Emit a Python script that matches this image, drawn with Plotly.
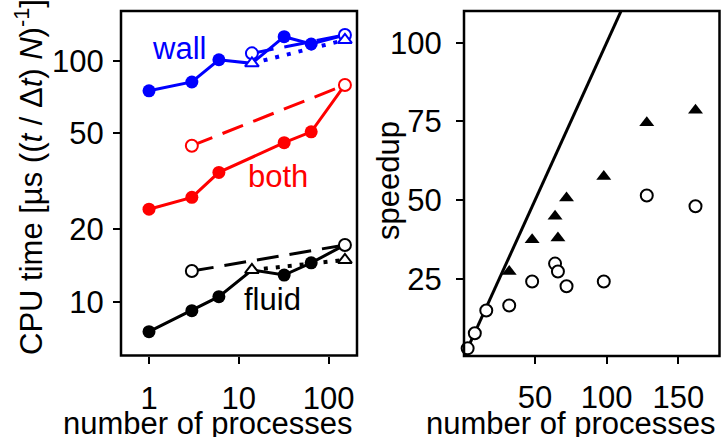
import plotly.graph_objects as go

W, H = 723, 437

# ---------------- data: left panel (CPU time, log-log) ----------------
procs_total = [1, 3, 6, 14, 32, 64, 152]
procs_total_both = [1, 3, 6, 32, 64, 152]
wall_total = [75.0, 81.6, 100.9, 97.5, 125.8, 117.3, 127.8]
both_total = [24.2, 27.1, 34.4, 45.7, 50.7, 79.3]
fluid_total = [7.51, 9.18, 10.49, 13.54, 12.9, 14.5, 17.2]

wall_dash_x = [14, 152]
wall_dash_y = [107.3, 127.8]
wall_dot_x = [14, 152]
wall_dot_y = [97.5, 121.9]

both_dash_x = [3, 152]
both_dash_y = [44.4, 79.3]

fluid_dash_x = [3, 152]
fluid_dash_y = [13.4, 17.2]
fluid_dot_x = [14, 152]
fluid_dot_y = [13.54, 14.9]

# ---------------- data: right panel (speedup) ----------------
ideal_x = [0, 180]
ideal_y = [0, 180]
spd_circ_x = [3, 8, 16, 32, 48, 64, 66, 72, 98, 128, 162]
spd_circ_y = [3.0, 7.8, 15.0, 16.6, 24.2, 29.9, 27.4, 22.7, 24.2, 51.5, 48.1]
spd_tri_x = [32, 48, 64, 66, 72, 98, 128, 162]
spd_tri_y = [27.4, 37.5, 44.9, 38.0, 50.7, 57.5, 74.6, 78.6]

left_xticks = [1, 10, 100]
left_yticks = [10, 20, 50, 100]
right_xticks = [50, 100, 150]
right_yticks = [25, 50, 75, 100]

BLUE = "#0000FF"
RED = "#FF0000"
BLACK = "#000000"
FONT = "Liberation Sans, Arial, sans-serif"
FS = 31

def px(xp):
    return xp / W

def py(yp):
    return 1 - yp / H

# panel pixel boxes
L = (121, 357, 11, 355.5)
R = (464, 719.5, 11, 356)

fig = go.Figure()

def line_tr(x, y, color, dash, xa, ya, width=3):
    fig.add_trace(go.Scatter(x=x, y=y, mode="lines", xaxis=xa, yaxis=ya,
                             line=dict(color=color, width=width, dash=dash),
                             showlegend=False, hoverinfo="skip"))

def mark_tr(x, y, color, symbol, filled, xa, ya, size=12):
    fig.add_trace(go.Scatter(x=x, y=y, mode="markers", xaxis=xa, yaxis=ya,
                             cliponaxis=False,
                             marker=dict(symbol=symbol, size=size,
                                         color=color if filled else "white",
                                         line=dict(color=color, width=0 if filled else 2)),
                             showlegend=False, hoverinfo="skip"))

DASH = "22px,11px"
DOT = "4px,8px"

# left panel: wall
line_tr(procs_total, wall_total, BLUE, "solid", "x", "y")
line_tr(wall_dash_x, wall_dash_y, BLUE, DASH, "x", "y")
line_tr(wall_dot_x, wall_dot_y, BLUE, DOT, "x", "y", width=4)
mark_tr([v for i, v in enumerate(procs_total) if i not in (3, 6)],
        [v for i, v in enumerate(wall_total) if i not in (3, 6)], BLUE, "circle", True, "x", "y", 13)
mark_tr(wall_dash_x, wall_dash_y, BLUE, "circle", False, "x", "y", 12)
mark_tr(wall_dot_x, wall_dot_y, BLUE, "triangle-up", False, "x", "y", 12)

# left panel: both
line_tr(procs_total_both, both_total, RED, "solid", "x", "y")
line_tr(both_dash_x, both_dash_y, RED, DASH, "x", "y")
mark_tr(procs_total_both[:-1], both_total[:-1], RED, "circle", True, "x", "y", 13)
mark_tr(both_dash_x, both_dash_y, RED, "circle", False, "x", "y", 12)

# left panel: fluid
line_tr(procs_total, fluid_total, BLACK, "solid", "x", "y")
line_tr(fluid_dash_x, fluid_dash_y, BLACK, DASH, "x", "y")
line_tr(fluid_dot_x, fluid_dot_y, BLACK, DOT, "x", "y", width=4)
mark_tr([v for i, v in enumerate(procs_total) if i not in (3, 6)],
        [v for i, v in enumerate(fluid_total) if i not in (3, 6)], BLACK, "circle", True, "x", "y", 13)
mark_tr(fluid_dash_x, fluid_dash_y, BLACK, "circle", False, "x", "y", 12)
mark_tr(fluid_dot_x, fluid_dot_y, BLACK, "triangle-up", False, "x", "y", 12)

# right panel
line_tr(ideal_x, ideal_y, BLACK, "solid", "x2", "y2", width=3)
mark_tr(spd_tri_x, spd_tri_y, BLACK, "triangle-up", True, "x2", "y2", 13)
mark_tr(spd_circ_x, spd_circ_y, BLACK, "circle", False, "x2", "y2", 12)

# axis ranges from pixel geometry
lx0 = (L[0] - 149) / 89.8
lx1 = (L[1] - 149) / 89.8
ly1 = 2 + (60.7 - L[2]) / 241
ly0 = 1 - (L[3] - 301.7) / 241
rx0 = (R[0] - 463.35) / 1.433
rx1 = (R[1] - 463.35) / 1.433
ry1 = (357.8 - R[2]) / 3.151
ry0 = (357.8 - R[3]) / 3.151

tickfont = dict(family=FONT, size=FS, color="black")
common = dict(showgrid=False, zeroline=False, showline=False, ticks="outside",
              ticklen=7, tickwidth=2, tickcolor="black", tickfont=tickfont)

fig.update_layout(
    width=W, height=H, margin=dict(l=0, r=0, t=0, b=0),
    paper_bgcolor="white", plot_bgcolor="white",
    xaxis=dict(domain=[px(L[0]), px(L[1])], type="log", range=[lx0, lx1],
               tickvals=left_xticks, ticktext=[str(v) for v in left_xticks],
               anchor="y", ticklabelstandoff=8, **common),
    yaxis=dict(domain=[py(L[3]), py(L[2])], type="log", range=[ly0, ly1],
               tickvals=left_yticks, ticktext=[str(v) for v in left_yticks],
               anchor="x", ticklabelstandoff=3, **common),
    xaxis2=dict(domain=[px(R[0]), px(R[1])], range=[rx0, rx1],
                tickvals=right_xticks, ticktext=[str(v) for v in right_xticks],
                anchor="y2", ticklabelstandoff=7, **common),
    yaxis2=dict(domain=[py(R[3]), py(R[2])], range=[ry0, ry1],
                tickvals=right_yticks, ticktext=[str(v) for v in right_yticks],
                anchor="x2", ticklabelstandoff=8, **common),
)

# boxes
for (x0, x1, y0, y1) in (L, R):
    fig.add_shape(type="rect", xref="paper", yref="paper",
                  x0=px(x0), x1=px(x1), y0=py(y1), y1=py(y0),
                  line=dict(color="black", width=2.5), fillcolor="rgba(0,0,0,0)")

def ann(text, xp, yp, color="black", angle=0, size=FS):
    fig.add_annotation(text=text, x=px(xp), y=py(yp), xref="paper", yref="paper",
                       showarrow=False, textangle=angle, xanchor="center", yanchor="middle",
                       font=dict(family=FONT, size=size, color=color))

ann("wall", 179, 49, BLUE)
ann("both", 278, 177, RED)
ann("fluid", 272, 299, BLACK)
ann("number of processes", 208, 423)
ann("number of processes", 570, 423)
ann("CPU time [µs ((<i>t</i> / Δ<i>t</i>) <i>N</i>)<sup>-1</sup>]", 29, 177, angle=-90)
ann("speedup", 388, 181, angle=-90)

fig.write_html("out.html", config={"displayModeBar": False},
               post_script="document.body.style.margin='0';document.body.style.overflow='hidden';")
